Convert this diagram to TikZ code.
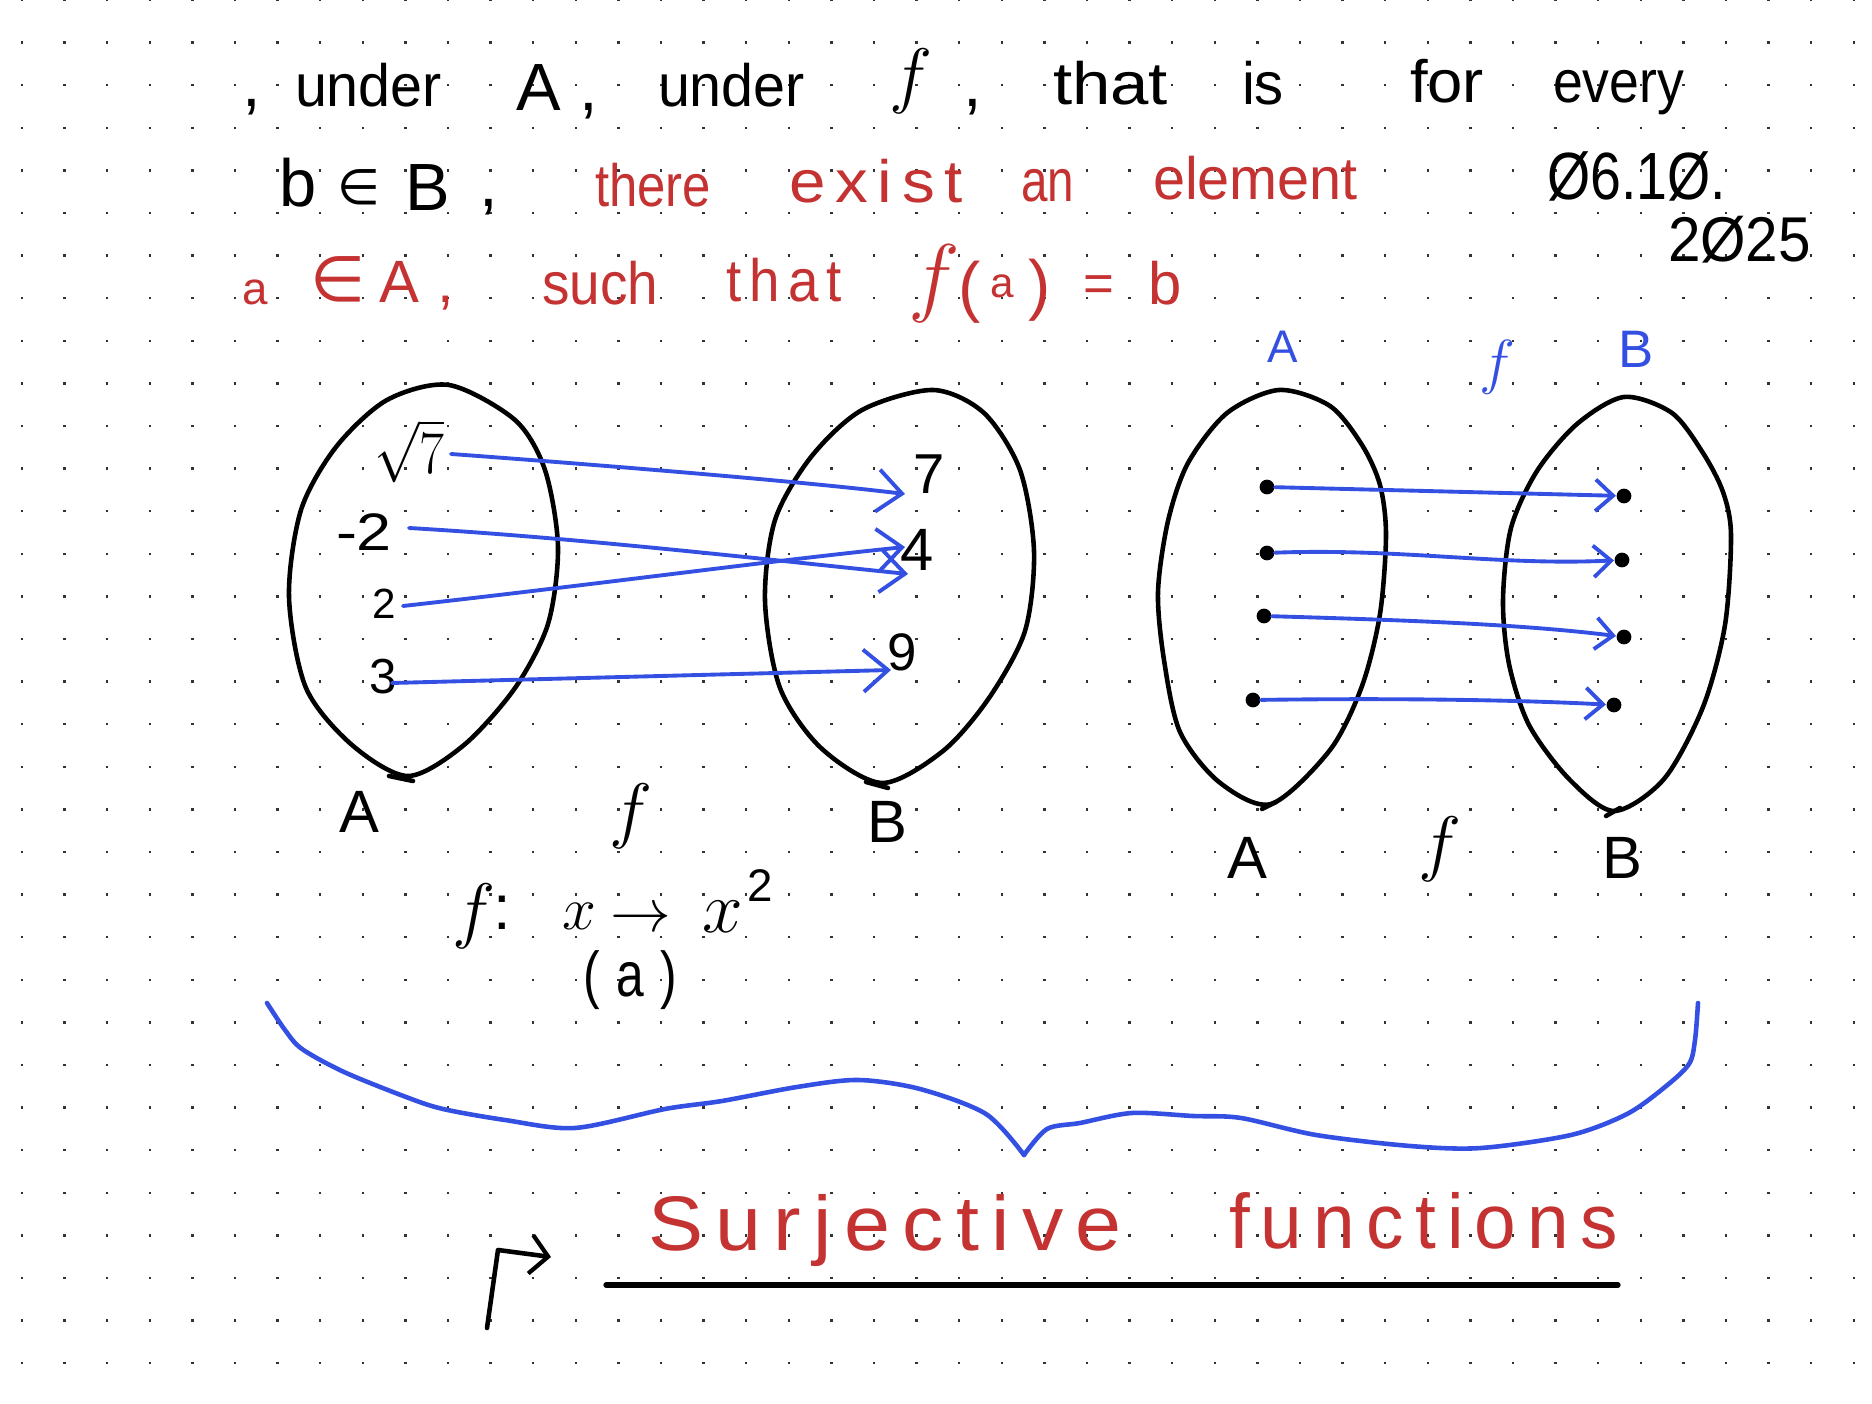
\documentclass[tikz,border=0pt]{standalone}
\usepackage{fontspec}
\usepackage{graphicx}
\setmainfont{Liberation Sans}
\newfontfamily\dv{DejaVu Sans}
\newfontfamily\handsp[LetterSpace=15]{Liberation Sans}
\usetikzlibrary{arrows.meta}
\definecolor{inkblue}{RGB}{52,80,226}
\definecolor{inkred}{RGB}{196,50,50}
\newdimen\pxu \pxu=0.01cm
\newcommand\hw[2]{\resizebox{#1\pxu}{\height}{#2}}
\begin{document}
\begin{tikzpicture}[x=0.01cm,y=-0.01cm,
  wd/.style={inner sep=0pt,outer sep=0pt,anchor=base west},
  fs/.style={font=\fontsize{#1}{#1}\selectfont},
  ink/.style={line width=1.3pt,line cap=round,line join=round},
  arr/.style={inkblue,line width=1.1pt,line cap=round,-{Straight Barb[length=7pt,width=12pt,line width=1.1pt]}},
  arrs/.style={inkblue,line width=1.1pt,line cap=round,-{Straight Barb[length=5pt,width=9pt,line width=1.1pt]}},
  dotn/.style={circle,fill=black,inner sep=0pt,minimum size=4.2pt},
]
\fill[white] (0,0) rectangle (1872,1404);
\useasboundingbox (0,0) rectangle (1872,1404);
% dot grid
\foreach \i in {0,...,43}{
  \foreach \j in {0,...,32}{
    \fill[black!80] ({22+42.6*\i-1.2},{42.6*\j-1.2}) rectangle ++(2.4,2.4);
  }
}
% ---------- line 1 ----------
\node[wd,fs=19] (c0) at (242,107) {,};
\node[wd,fs=17] (u1) at (295,107) {\hw{147}{under}};
\node[wd,fs=19] (a1) at (516,111) {A};
\node[wd,fs=19] (c1) at (579,111) {,};
\node[wd,fs=17] (u2) at (658,107) {\hw{147}{under}};
\node[wd,fs=21] (f1) at (889,100) {$f$};
\node[wd,fs=19] (c2) at (963,107) {,};
\node[wd,fs=17] (th1) at (1053,105) {\hw{115}{that}};
\node[wd,fs=17] (is1) at (1242,105) {\hw{42}{is}};
\node[wd,fs=17] (for1) at (1410,103) {\hw{74}{for}};
\node[wd,fs=17] (ev1) at (1553,103) {\hw{131}{every}};
% ---------- line 2 ----------
\node[wd,fs=19] (b2) at (279,207) {b};
\node[wd,fs=14] (in2) at (337,205) {\dv ∈};
\node[wd,fs=19] (B2) at (405,211) {B};
\node[wd,fs=19] (c3) at (479,207) {,};
\node[wd,fs=17,text=inkred] (there) at (595,207) {\hw{116}{there}};
\node[wd,fs=17,text=inkred] (exist) at (789,203) {\hw{174}{\handsp exist}};
\node[wd,fs=17,text=inkred] (an) at (1021,202) {\hw{53}{an}};
\node[wd,fs=17,text=inkred] (elem) at (1153,200) {\hw{205}{element}};
\node[wd,fs=19] (date1) at (1547,200) {\hw{179}{Ø6.1Ø.}};
\node[wd,fs=18] (date2) at (1668,262) {\hw{143}{2Ø25}};
% ---------- line 3 ----------
\node[wd,fs=13,text=inkred] (a3) at (242,305) {a};
\node[wd,fs=18,text=inkred] (in3) at (310,302) {\dv ∈};
\node[wd,fs=17,text=inkred] (A3) at (379,303) {A};
\node[wd,fs=17,text=inkred] (c4) at (437,303) {,};
\node[wd,fs=17,text=inkred] (such) at (542,305) {\hw{116}{such}};
\node[wd,fs=17,text=inkred] (that3) at (726,302) {\hw{116}{\handsp that}};
\node[wd,fs=24,text=inkred] (f3) at (908,306) {$f$};
\node[wd,fs=19,text=inkred] (lp3) at (958,310) {(};
\node[wd,fs=12,text=inkred] (aa3) at (990,298) {a};
\node[wd,fs=19,text=inkred] (rp3) at (1028,308) {)};
\node[wd,fs=15,text=inkred] (eq3) at (1083,302) {=};
\node[wd,fs=17,text=inkred] (bb3) at (1148,305) {b};
% ---------- blue labels top right ----------
\node[wd,fs=13,text=inkblue] (Ab) at (1267,363) {A};
\node[wd,fs=18,text=inkblue] (fb) at (1479,383) {$f$};
\node[wd,fs=15,text=inkblue] (Bb) at (1618,368) {B};
% ---------- left diagram ----------
\draw[ink] plot[smooth cycle] coordinates {(449,385) (515,420) (545,470) (558,547) (548,624) (515,688) (464,745) (408,776) (352,745) (306,688) (289,597) (301,510) (336,447) (387,400)};
\draw[ink] (389,776) -- (413,781);
\draw[ink] plot[smooth cycle] coordinates {(933,390) (984,413) (1020,470) (1034,551) (1025,631) (989,698) (943,751) (882,783) (821,748) (780,688) (765,601) (775,520) (811,457) (862,410)};
\draw[ink] (866,782) -- (888,788);
\node[wd,fs=17] (sq7) at (374,474) {\hw{70}{$\sqrt{7}$}};
\node[wd,fs=15] (m2) at (336,551) {\hw{56}{-2}};
\node[wd,fs=12] (p2) at (372,619) {2};
\node[wd,fs=14] (p3) at (369,694) {3};
\node[wd,fs=16] (t7) at (913,494) {7};
\node[wd,fs=17] (t4) at (900,571) {4};
\node[wd,fs=15] (t9) at (887,671) {9};
\coordinate (s1) at (451,454);
\coordinate (e1) at (905,494);
\coordinate (s2) at (409,528);
\coordinate (e2) at (908,574);
\coordinate (s3) at (403,606);
\coordinate (e3) at (905,547);
\coordinate (s4) at (392,683);
\coordinate (e4) at (891,670);
\draw[arr] (s1) .. controls (560,462) and (790,480) .. (e1);
\draw[arr] (s2) .. controls (580,538) and (770,560) .. (e2);
\draw[arr] (s3) .. controls (600,584) and (760,562) .. (e3);
\draw[arr] (s4) -- (e4);
\node[wd,fs=17] (LA) at (339,833) {A};
\node[wd,fs=21] (Lf) at (609,835) {$f$};
\node[wd,fs=17] (LB) at (867,843) {B};
% ---------- right diagram ----------
\draw[ink] plot[smooth cycle] coordinates {(1279,390) (1330,406) (1362,445) (1380,485) (1386,535) (1380,614) (1362,686) (1330,750) (1271,804) (1219,782) (1180,732) (1164,660) (1158,592) (1168,521) (1188,463) (1227,413)};
\draw[ink] (1262,809) -- (1276,802);
\draw[ink] plot[smooth cycle] coordinates {(1624,397) (1672,413) (1703,453) (1723,492) (1731,535) (1725,625) (1703,707) (1664,779) (1614,811) (1569,779) (1529,725) (1509,664) (1503,600) (1511,528) (1537,471) (1577,424)};
\draw[ink] (1606,816) -- (1620,808);
\node[dotn] (la1) at (1267,487) {};
\node[dotn] (la2) at (1267,553) {};
\node[dotn] (la3) at (1264,616) {};
\node[dotn] (la4) at (1253,700) {};
\node[dotn] (rb1) at (1624,496) {};
\node[dotn] (rb2) at (1622,560) {};
\node[dotn] (rb3) at (1624,637) {};
\node[dotn] (rb4) at (1614,705) {};
\draw[arrs] (la1) -- (rb1);
\draw[arrs] (la2) .. controls (1400,548) and (1500,566) .. (rb2);
\draw[arrs] (la3) .. controls (1400,620) and (1520,624) .. (rb3);
\draw[arrs] (la4) .. controls (1400,698) and (1520,700) .. (rb4);
\node[wd,fs=17] (RA) at (1227,879) {A};
\node[wd,fs=21] (Rf) at (1418,868) {$f$};
\node[wd,fs=17] (RB) at (1602,879) {B};
% ---------- formula ----------
\node[wd,fs=22] (ff) at (452,935) {$f$};
\node[wd,fs=18] (fcol) at (493,930) {:};
\node[wd,fs=19] (fx) at (562,930) {$x$};
\node[wd,fs=17] (farr) at (610,932) {$\rightarrow$};
\node[wd,fs=22] (fx2) at (702,933) {$x$};
\node[wd,fs=13] (fsup) at (747,902) {2};
\node[wd,fs=18] (fa) at (583,997) {\hw{94}{(\,\,a\,\,)}};
% ---------- brace ----------
\draw[inkblue,line width=1.3pt,line cap=round,line join=round] plot[smooth] coordinates {(267,1003) (285,1030) (302,1049) (344,1072) (406,1097) (443,1109) (505,1120) (575,1128) (665,1109) (722,1101) (797,1087) (858,1080) (920,1089) (986,1114) (1024,1155)};
\draw[inkblue,line width=1.3pt,line cap=round,line join=round] plot[smooth] coordinates {(1024,1155) (1047,1129) (1080,1123) (1132,1113) (1193,1116) (1241,1118) (1316,1135) (1410,1146) (1481,1148) (1571,1135) (1627,1114) (1665,1087) (1689,1064) (1695,1040) (1698,1003)};
% ---------- title ----------
\node[wd,fs=22,text=inkred] (sur) at (648,1251) {\hw{474}{\handsp Surjective}};
\node[wd,fs=22,text=inkred] (fun) at (1229,1249) {\hw{389}{\handsp functions}};
\draw[line width=1.5pt,line cap=round] (606,1285) -- (1618,1285);
\draw[ink,-{Straight Barb[length=5pt,width=11pt,line width=1.2pt]}] (487,1328) -- (498,1250) -- (551,1257);
\end{tikzpicture}
\end{document}
